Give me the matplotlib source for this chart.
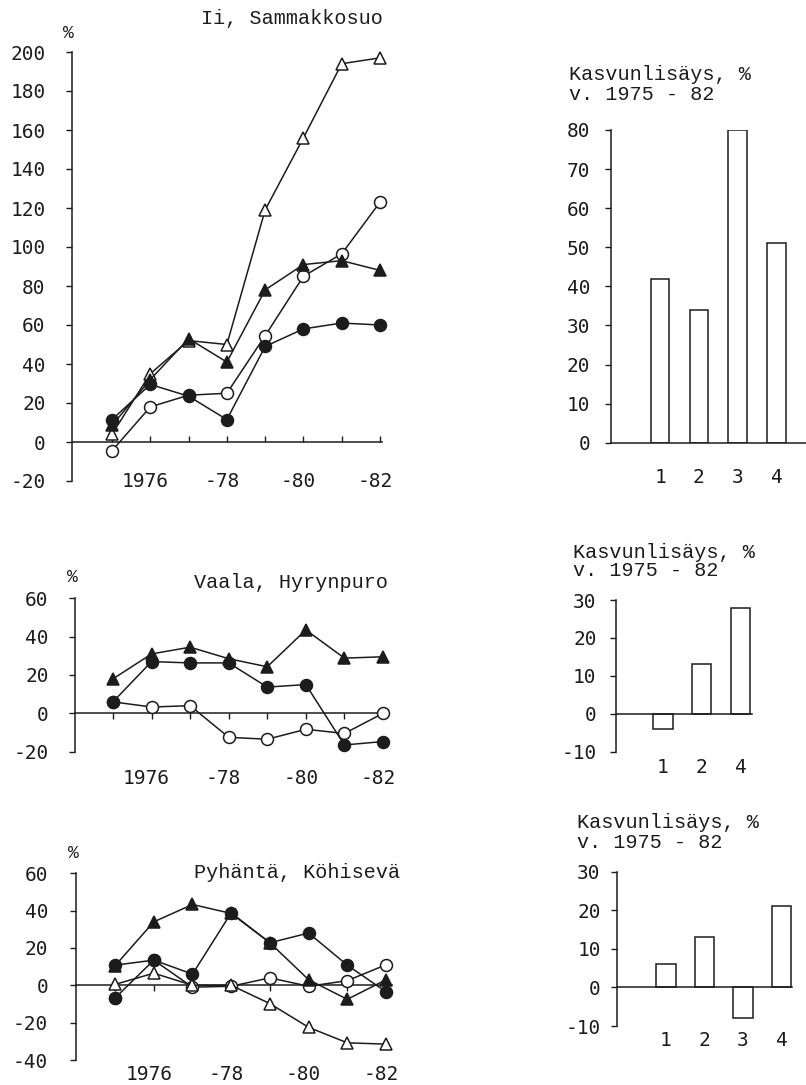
import matplotlib
matplotlib.use("Agg")
import matplotlib.pyplot as plt
from matplotlib.transforms import blended_transform_factory

# ---------------- data ----------------
years = [1975, 1976, 1977, 1978, 1979, 1980, 1981, 1982]
year_label_pos = [1976, 1978, 1980, 1982]
year_label_txt = ["1976", "-78", "-80", "-82"]

# Ii, Sammakkosuo
ii_open_circ = [-4.5, 18, 24, 25, 54.5, 85, 96.5, 123]
ii_open_tri = [4, 35, 52, 50, 119, 156, 194, 197]
ii_filled_tri = [8.5, 32, 53, 41, 78, 91, 93, 88]
ii_filled_circ = [11.5, 29.5, 23.5, 11.5, 49, 58, 61, 60]
ii_bar_labels = ["1", "2", "3", "4"]
ii_bar_values = [42, 34, 80, 51]

# Vaala, Hyrynpuro
va_open_circ = [6, 3.3, 4, -12.5, -13.5, -8.3, -10.5, 0]
va_filled_tri = [18, 31, 34.5, 28.5, 24.3, 43.5, 28.8, 29.5]
va_filled_circ = [6, 27, 26.3, 26.3, 13.7, 15, -16.5, -14.7]
va_bar_labels = ["1", "2", "4"]
va_bar_values = [-4, 13, 28]

# Pyhäntä, Köhisevä
py_open_circ = [-6.8, 13.5, -1, -0.5, 4, -0.5, 2.5, 11]
py_open_tri = [0.5, 6.5, 0, 0, -9.8, -22.5, -30.8, -31.5]
py_filled_tri = [10.5, 34, 43.3, 38.5, 22.8, 3, -7.5, 3]
py_filled_circ = [10.8, 13.5, 6, 38.8, 22.8, 28, 10.8, -3.5]
py_bar_labels = ["1", "2", "3", "4"]
py_bar_values = [6, 13, -8, 21]

bar_title_1 = "Kasvunlisäys, %"
bar_title_2 = "v. 1975 - 82"

# ---------------- style ----------------
W, H = 806, 1085
INK = "#1c1c1c"
NUMFONT = "DejaVu Sans Mono"
TXTFONT = "Liberation Mono"
FS = 14
TFS = 14.5
plt.rcParams["font.family"] = NUMFONT
plt.rcParams["text.color"] = INK
plt.rcParams["axes.edgecolor"] = INK
plt.rcParams["xtick.color"] = INK
plt.rcParams["ytick.color"] = INK

fig = plt.figure(figsize=(W / 100, H / 100), dpi=100)


def add_ax(left, top, right, bottom):
    return fig.add_axes([left / W, 1 - bottom / H, (right - left) / W, (bottom - top) / H])


def ftext(x, y, s, **kw):
    fig.text(x / W, 1 - y / H, s, **kw)


def line_chart(ax, xlim, ylim, yticks, ypad, tickdir, label_base, series):
    ax.set_xlim(*xlim)
    ax.set_ylim(*ylim)
    for s in ("top", "right"):
        ax.spines[s].set_visible(False)
    ax.spines["bottom"].set_position(("data", 0))
    ax.spines["left"].set_linewidth(1.1)
    ax.spines["bottom"].set_linewidth(1.1)
    ax.set_yticks(yticks)
    ax.set_yticklabels([str(v) for v in yticks])
    ax.tick_params(axis="y", direction="out", length=4, width=1.0, pad=ypad, labelsize=FS)
    ax.set_xticks(years)
    ax.tick_params(axis="x", direction=tickdir, length=4, width=1.0, labelbottom=False)
    ax.patch.set_alpha(0)
    for vals, marker, face, z in series:
        ax.plot(years, vals, color=INK, lw=1.1, marker=marker, ms=8.6 if marker == "o" else 9.2,
                mfc=face, mec=INK, mew=1.1, zorder=z, clip_on=False)
    tr = blended_transform_factory(ax.transData, fig.transFigure)
    for xp, t in zip(year_label_pos, year_label_txt):
        ax.text(xp - 0.13, 1 - label_base / H, t, transform=tr, ha="center", va="baseline",
                fontsize=FS, color=INK)


def bar_chart(ax, labels, values, xlim, ylim, yticks, ypad, label_base, width):
    pos = list(range(1, len(values) + 1))
    ax.bar(pos, values, width=width, facecolor="white", edgecolor=INK, linewidth=1.1, zorder=2)
    ax.set_xlim(*xlim)
    ax.set_ylim(*ylim)
    for s in ("top", "right"):
        ax.spines[s].set_visible(False)
    ax.spines["bottom"].set_position(("data", 0))
    ax.spines["bottom"].set_zorder(3)
    ax.spines["left"].set_linewidth(1.1)
    ax.spines["bottom"].set_linewidth(1.1)
    ax.set_yticks(yticks)
    ax.set_yticklabels([str(v) for v in yticks])
    ax.tick_params(axis="y", direction="out", length=4, width=1.0, pad=ypad, labelsize=FS)
    ax.set_xticks([])
    ax.patch.set_alpha(0)
    tr = blended_transform_factory(ax.transData, fig.transFigure)
    for p, t in zip(pos, labels):
        ax.text(p, 1 - label_base / H, t, transform=tr, ha="center", va="baseline",
                fontsize=FS, color=INK)


def bar_title(x, y1, y2):
    ftext(x, y1, bar_title_1, ha="left", va="center", fontsize=TFS, family=TXTFONT)
    ftext(x, y2, bar_title_2, ha="left", va="center", fontsize=TFS, family=TXTFONT)


# ---------------- Ii, Sammakkosuo ----------------
a1 = add_ax(72, 52, 382, 481)
line_chart(a1, (1973.955, 1982.052), (-20, 200), list(range(-20, 201, 20)), 15, "in", 487,
           [(ii_open_circ, "o", "white", 3), (ii_open_tri, "^", "white", 4),
            (ii_filled_tri, "^", INK, 5), (ii_filled_circ, "o", INK, 6)])
ftext(383, 18, "Ii, Sammakkosuo", ha="right", va="center", fontsize=TFS, family=TXTFONT)
ftext(68, 33, "%", ha="center", va="center", fontsize=13, family=TXTFONT)

b1 = add_ax(611, 130, 806, 442.7)
bar_chart(b1, ii_bar_labels, ii_bar_values, (-0.263, 4.76), (0, 80), list(range(0, 81, 10)),
          11, 483, 0.48)
bar_title(569, 75, 95)

# ---------------- Vaala, Hyrynpuro ----------------
a2 = add_ax(75, 598.3, 388, 751.7)
line_chart(a2, (1974.015, 1982.13), (-20, 60), [-20, 0, 20, 40, 60], 15, "out", 784,
           [(va_open_circ, "o", "white", 3), (va_filled_tri, "^", INK, 5),
            (va_filled_circ, "o", INK, 6)])
ftext(388, 582, "Vaala, Hyrynpuro", ha="right", va="center", fontsize=TFS, family=TXTFONT)
ftext(72, 578, "%", ha="center", va="center", fontsize=13, family=TXTFONT)

b2 = add_ax(616, 600, 752, 751.7)
bar_chart(b2, va_bar_labels, va_bar_values, (-0.213, 3.297), (-10, 30), [-10, 0, 10, 20, 30],
          10, 773, 0.5)
bar_title(573, 552, 571)

# ---------------- Pyhäntä, Köhisevä ----------------
a3 = add_ax(76, 873.3, 392, 1060)
line_chart(a3, (1973.99, 1982.155), (-40, 60), [-40, -20, 0, 20, 40, 60], 16, "out", 1079.5,
           [(py_open_circ, "o", "white", 3), (py_open_tri, "^", "white", 4),
            (py_filled_tri, "^", INK, 5), (py_filled_circ, "o", INK, 6)])
# first open-circle point appears filled in the original
a3.plot(years[:1], py_open_circ[:1], ls="none", marker="o", ms=8.6, mfc=INK, mec=INK,
        zorder=6, clip_on=False)
ftext(400, 873, "Pyhäntä, Köhisevä", ha="right", va="center", fontsize=TFS, family=TXTFONT)
ftext(73, 853, "%", ha="center", va="center", fontsize=13, family=TXTFONT)

b3 = add_ax(617.3, 871.7, 791.7, 1026)
bar_chart(b3, py_bar_labels, py_bar_values, (-0.263, 4.26), (-10, 30), [-10, 0, 10, 20, 30],
          8, 1046, 0.5)
bar_title(577, 822, 842)

fig.savefig("out.png", dpi=100, facecolor="white")
